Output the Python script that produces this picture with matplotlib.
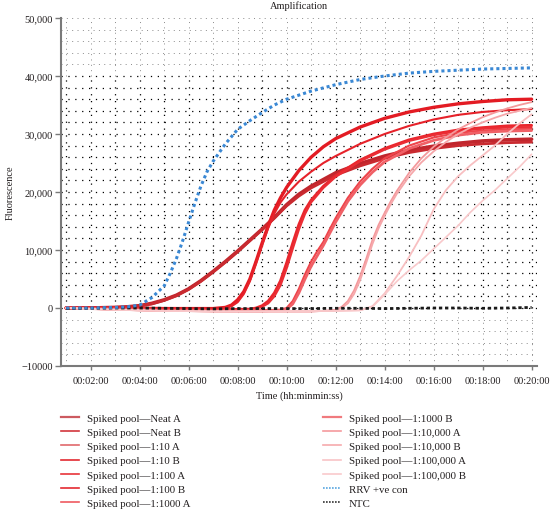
import matplotlib
matplotlib.use("Agg")
import matplotlib.pyplot as plt
from matplotlib.ticker import FixedLocator, FuncFormatter
from matplotlib.lines import Line2D

plt.rcParams['font.family'] = ['Liberation Serif', 'DejaVu Serif']
plt.rcParams['font.size'] = 7.5

# ---------------- data (minutes, fluorescence) ----------------
rrv_t = [1, 2, 3, 3.5, 4, 4.5, 5, 5.25, 5.5, 5.75, 6, 6.25, 6.5, 6.75, 7, 7.5, 8, 8.5, 9, 9.5, 10, 11, 12, 13, 14, 15, 16, 17, 18, 19, 20]
rrv_f = [0, 0, 100, 200, 500, 1800, 3800, 6000, 8500, 11500, 14800, 18000, 21000, 23500, 25300, 28300, 30800, 32300, 33700, 35000, 36000, 37400, 38500, 39400, 40000, 40500, 40800, 41000, 41200, 41300, 41400]

ntc_t = [1, 2, 3, 4, 5, 6, 7, 8, 9, 10, 11, 12, 13, 14, 15, 16, 17, 18, 19, 20]
ntc_f = [-100, -50, 0, 0, -50, -100, -150, -100, -100, -100, -100, -50, -50, -100, -50, 0, 0, -50, 0, 100]

neat_a_t = [1, 2, 3, 3.5, 4, 4.5, 5, 5.5, 6, 6.5, 7, 7.5, 8, 8.5, 9, 9.5, 10, 10.5, 11, 12, 13, 14, 15, 16, 17, 18, 19, 20]
neat_a_f = [0, 0, 100, 200, 400, 800, 1400, 2200, 3300, 4700, 6300, 8000, 9800, 11700, 13600, 15600, 17800, 19600, 21000, 23300, 24900, 26200, 27200, 27900, 28400, 28800, 29000, 29100]
neat_b_t = [1, 2, 3, 3.5, 4, 4.5, 5, 5.5, 6, 6.5, 7, 7.5, 8, 8.5, 9, 9.5, 10, 10.5, 11, 12, 13, 14, 15, 16, 17, 18, 19, 20]
neat_b_f = [0, 0, 100, 200, 350, 700, 1300, 2100, 3200, 4600, 6200, 7900, 9700, 11600, 13500, 15500, 17600, 19300, 20700, 22900, 24500, 25800, 26800, 27500, 28000, 28300, 28500, 28600]

d10_a_t = [1, 3, 5, 7, 7.25, 7.5, 7.75, 8, 8.25, 8.5, 8.75, 9, 9.25, 9.5, 9.75, 10, 10.5, 11, 11.5, 12, 13, 14, 15, 16, 17, 18, 19, 20]
d10_a_f = [0, 0, -100, -100, 0, 100, 500, 1400, 2800, 5000, 8000, 11200, 14200, 16900, 19000, 20800, 23700, 26000, 27800, 29200, 31200, 32700, 33800, 34600, 35200, 35600, 35900, 36000]
d10_b_t = [1, 3, 5, 7, 7.5, 7.75, 8, 8.25, 8.5, 8.75, 9, 9.25, 9.5, 9.75, 10, 10.5, 11, 11.5, 12, 13, 14, 15, 16, 17, 18, 19, 20]
d10_b_f = [0, 0, -100, -200, 0, 300, 1000, 2400, 4600, 7600, 10800, 13800, 16300, 18200, 19600, 21800, 23500, 25000, 26200, 28300, 30000, 31400, 32500, 33300, 33800, 34100, 34300]

d100_a_t = [1, 3, 5, 7, 8.5, 8.75, 9, 9.25, 9.5, 9.75, 10, 10.25, 10.5, 10.75, 11, 11.5, 12, 13, 14, 15, 16, 17, 18, 19, 20]
d100_a_f = [0, 0, -200, -300, -200, 0, 400, 1200, 2600, 4700, 7800, 11200, 14400, 16900, 18600, 21000, 22800, 25500, 27500, 29000, 30000, 30700, 31100, 31400, 31500]
d100_b_t = [1, 3, 5, 7, 8.5, 8.75, 9, 9.25, 9.5, 9.75, 10, 10.25, 10.5, 10.75, 11, 11.5, 12, 13, 14, 15, 16, 17, 18, 19, 20]
d100_b_f = [0, 0, -200, -300, -300, -100, 200, 800, 2000, 3900, 6800, 10200, 13500, 16200, 18200, 20700, 22600, 25300, 27300, 28800, 29800, 30500, 30900, 31100, 31200]

d1000_a_t = [1, 3, 5, 7, 9, 9.75, 10, 10.25, 10.5, 10.75, 11, 11.25, 11.5, 11.75, 12, 12.5, 13, 13.5, 14, 15, 16, 17, 18, 19, 20]
d1000_a_f = [0, -200, -400, -500, -400, -300, 0, 1200, 3300, 5800, 8000, 9800, 11400, 13500, 15500, 19000, 21800, 24000, 25800, 28000, 29400, 30200, 30600, 30800, 30900]
d1000_b_t = [1, 3, 5, 7, 9, 9.75, 10, 10.25, 10.5, 10.75, 11, 11.25, 11.5, 11.75, 12, 12.5, 13, 13.5, 14, 15, 16, 17, 18, 19, 20]
d1000_b_f = [0, -200, -400, -500, -500, -400, -200, 700, 2600, 5000, 7200, 9000, 10800, 12800, 14800, 18400, 21200, 23400, 25200, 27500, 28900, 29800, 30300, 30500, 30600]

d10k_a_t = [1, 3, 5, 8, 11, 11.5, 12, 12.25, 12.5, 12.75, 13, 13.25, 13.5, 13.75, 14, 14.25, 14.5, 15, 15.5, 16, 16.5, 17, 17.5, 18, 18.5, 19, 19.5, 20]
d10k_a_f = [0, -300, -500, -600, -600, -500, -300, 200, 1200, 3000, 5500, 8500, 11700, 14300, 16400, 18400, 20200, 23300, 25800, 27800, 29400, 30800, 31900, 32900, 33700, 34400, 35000, 35500]
d10k_b_t = [1, 3, 5, 8, 11, 11.5, 12, 12.25, 12.5, 12.75, 13, 13.25, 13.5, 13.75, 14, 14.25, 14.5, 15, 15.5, 16, 16.5, 17, 17.5, 18, 18.5, 19, 19.5, 20]
d10k_b_f = [0, -300, -500, -600, -600, -500, -400, 0, 800, 2400, 4800, 7800, 11000, 13700, 15900, 17900, 19700, 22700, 25100, 27000, 28600, 30000, 31100, 32000, 32800, 33500, 34000, 34500]

d100k_a_t = [1, 3, 5, 8, 12, 13, 13.5, 14, 14.5, 15, 15.5, 16, 16.5, 17, 17.5, 18, 18.5, 19, 19.5, 20]
d100k_a_f = [0, -300, -500, -600, -500, -400, 300, 2500, 5500, 8800, 12500, 17000, 20300, 22700, 24600, 26300, 28000, 30000, 31800, 33400]
d100k_b_t = [1, 3, 5, 8, 12, 13, 13.5, 14, 14.5, 15, 15.5, 16, 16.5, 17, 17.5, 18, 18.5, 19, 19.5, 20]
d100k_b_f = [0, -300, -500, -600, -500, -400, 200, 2300, 4600, 6500, 8200, 10200, 12200, 14200, 16500, 18500, 20300, 22300, 24300, 26500]

labels = ["Spiked pool\u2014Neat A", "Spiked pool\u2014Neat B",
          "Spiked pool\u20141:10 A", "Spiked pool\u20141:10 B",
          "Spiked pool\u20141:100 A", "Spiked pool\u20141:100 B",
          "Spiked pool\u20141:1000 A", "Spiked pool\u20141:1000 B",
          "Spiked pool\u20141:10,000 A", "Spiked pool\u20141:10,000 B",
          "Spiked pool\u20141:100,000 A", "Spiked pool\u20141:100,000 B",
          "RRV +ve con", "NTC"]

x_ticks = [2, 4, 6, 8, 10, 12, 14, 16, 18, 20]
y_ticks = [-10000, 0, 10000, 20000, 30000, 40000, 50000]
y_tick_labels = ["\u221210000", "0", "10,000", "20,000", "30,000", "40,000", "50,000"]

# ---------------- styling ----------------
series = [
    (neat_a_t, neat_a_f, '#c0262d', 2.6, '-'),
    (neat_b_t, neat_b_f, '#c92a30', 2.0, '-'),
    (d10_a_t, d10_a_f, '#e31b23', 2.4, '-'),
    (d10_b_t, d10_b_f, '#e6222a', 1.5, '-'),
    (d100_a_t, d100_a_f, '#e9262d', 2.0, '-'),
    (d100_b_t, d100_b_f, '#eb2d34', 1.5, '-'),
    (d1000_a_t, d1000_a_f, '#ee444a', 1.5, '-'),
    (d1000_b_t, d1000_b_f, '#f06066', 2.0, '-'),
    (d10k_a_t, d10k_a_f, '#f4999c', 1.3, '-'),
    (d10k_b_t, d10k_b_f, '#f6a7aa', 1.3, '-'),
    (d100k_a_t, d100k_a_f, '#f8bfc1', 1.3, '-'),
    (d100k_b_t, d100k_b_f, '#f9c9cb', 1.2, '-'),
]
legend_colors = ['#cc5a60', '#d2363c', '#e0686c', '#e32a31', '#e8343a', '#e42a31', '#ef5a60',
                 '#f07a7e', '#f59a9d', '#f6aaad', '#f8c4c6', '#f9cacc']

fig = plt.figure(figsize=(5.5, 5.1), dpi=100)
ax = fig.add_axes([61/550, 1-367/510, 476/550, 348/510])

xmin, xmax = 0.79, 20.22
ymin, ymax = -10000, 50000
ax.set_xlim(xmin, xmax)
ax.set_ylim(ymin, ymax)

# grid (dotted, darker in main region)
dot = (0, (1, 4.5))
for yv in range(-10000, 50001, 2000):
    dark = 0 <= yv <= 40000
    ax.axhline(yv, color='#000000' if dark else '#8a8a8a', lw=0.9 if dark else 0.7,
               ls=dot, zorder=0)
for xv in range(1, 21):
    ax.plot([xv, xv], [0, 40000], color='#000000', lw=0.9, ls=dot, zorder=0)
    ax.plot([xv, xv], [ymin, 0], color='#8a8a8a', lw=0.7, ls=dot, zorder=0)
    ax.plot([xv, xv], [40000, ymax], color='#8a8a8a', lw=0.7, ls=dot, zorder=0)

handles = []
for (t, f, c, lw, ls), lc, lab in zip(series, legend_colors, labels[:12]):
    ax.plot(t, f, color=c, lw=lw, ls=ls, solid_capstyle='round', solid_joinstyle='round', zorder=3)
    handles.append(Line2D([], [], color=lc, lw=1.6 if lab.endswith(('Neat A', '1:1000 B')) else 1.2))

ax.plot(ntc_t, ntc_f, color='#1a1a1a', lw=2.0, ls=(0, (1.2, 1.0)), zorder=4)
ax.plot(rrv_t, rrv_f, color='#3a88d4', lw=2.2, ls=(0, (1.0, 1.0)), zorder=4)
handles.append(Line2D([], [], color='#58a6e0', lw=1.2, ls=(0, (1, 0.8))))
handles.append(Line2D([], [], color='#333333', lw=1.2, ls=(0, (1, 0.8))))

# axes style
for s in ['top', 'right']:
    ax.spines[s].set_visible(False)
for s in ['left', 'bottom']:
    ax.spines[s].set_color('#7a7a7a')
    ax.spines[s].set_linewidth(1.5)

ax.xaxis.set_major_locator(FixedLocator(x_ticks))
ax.xaxis.set_major_formatter(FuncFormatter(lambda v, p: "00:%02d:00" % int(round(v))))
ax.yaxis.set_major_locator(FixedLocator(y_ticks))
ax.set_yticklabels(y_tick_labels)
ax.tick_params(axis='both', colors='#7a7a7a', labelcolor='#231f20', labelsize=7.5, width=1.0)
ax.tick_params(axis='x', length=3, pad=4)
ax.tick_params(axis='y', length=4, pad=2)

ax.set_title('Amplification', fontsize=7.5, color='#231f20', pad=7)
ax.set_xlabel('Time (hh:minmin:ss)', fontsize=7.5, color='#231f20')
ax.xaxis.set_label_coords(0.5, -0.07)
ax.set_ylabel('Fluorescence', fontsize=7.5, color='#231f20')
ax.yaxis.set_label_coords(-0.098, 0.5)

common = dict(frameon=False, fontsize=7.8, handlelength=1.7, handletextpad=0.7,
              labelspacing=0.43, borderpad=0, borderaxespad=0, loc='upper left')
leg1 = fig.legend(handles[:7], labels[:7], bbox_to_anchor=(61/550, 1-414/510), **common)
leg2 = fig.legend(handles[7:], labels[7:], bbox_to_anchor=(323/550, 1-414/510), **common)
for lg in (leg1, leg2):
    for tx in lg.get_texts():
        tx.set_color('#231f20')

fig.savefig('out.png', dpi=100)
